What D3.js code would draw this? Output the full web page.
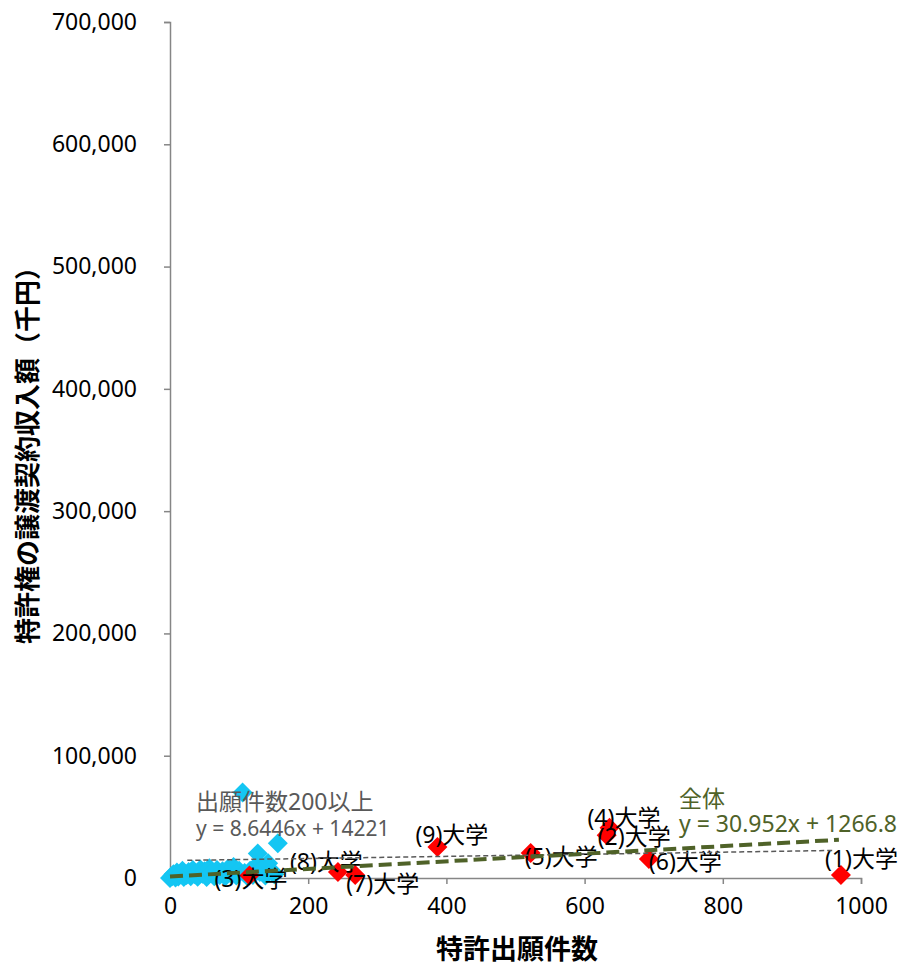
<!DOCTYPE html>
<html>
<head>
<meta charset="utf-8">
<script src="https://cdn.jsdelivr.net/npm/d3@7"></script>
<style>
  body { margin: 0; background: #fff; }
  svg { display: block; font-family: "Noto Sans", "Noto Sans CJK JP", sans-serif; }
</style>
</head>
<body>
<div id="chart"></div>
<script>
// universities with 200+ applications
const univNames = ["(1)大学", "(2)大学", "(3)大学", "(4)大学", "(5)大学", "(6)大学", "(7)大学", "(8)大学", "(9)大学"];
const univPatents = [971, 632, 115, 636, 522, 693, 268, 243, 387];
const univIncome = [2500, 35000, 2000, 41000, 20500, 15500, 2500, 5000, 25400];

// other universities
const otherPatents = [0, 3, 5, 8, 10, 12, 15, 18, 20, 24, 27, 30, 33, 36, 40, 44, 47, 50, 53, 57, 60, 64, 68, 72, 76, 80, 84, 88, 92, 96, 100, 105, 108, 112, 116, 120, 124, 127, 130, 134, 138, 142, 147, 151, 156];
const otherIncome = [0, 1500, 3000, 500, 4500, 1200, 3000, 6000, 800, 2500, 5000, 1500, 6500, 3000, 1000, 7000, 3500, 5500, 800, 8000, 4000, 1500, 6500, 2500, 5500, 1200, 7500, 3500, 9000, 2000, 6000, 70000, 4000, 1500, 6000, 2500, 9500, 20000, 5000, 8500, 2000, 12000, 6000, 3000, 28500];

const xTicks = [0, 200, 400, 600, 800, 1000];
const yTicks = [0, 100000, 200000, 300000, 400000, 500000, 600000, 700000];

// trend lines: [slope, intercept], x extent
const trendAll = [30.952, 1266.8];
const trendAllRange = [0, 968];
const trend200 = [8.6446, 14221];
const trend200Range = [25, 960];

// label offsets (px) from each red marker
const labelDx = [-16, -9, -35, -22, -6, 0, -9, -48, -22];
const labelDy = [-17, 1, 2, -11, 3, 2, 8, -11, -13];

let width = 901,
  height = 966;

let xScale = d3.scaleLinear().domain([0, 1000]).range([170, 861]);
let yScale = d3.scaleLinear().domain([0, 700000]).range([878, 22]);

let svg = d3
  .select("#chart")
  .append("svg")
  .attr("width", width)
  .attr("height", height);

// y axis
let yAxis = svg
  .append("g")
  .attr("transform", "translate(" + xScale(0) + ",0)")
  .call(
    d3.axisLeft(yScale)
      .tickValues(yTicks)
      .tickSize(6)
      .tickPadding(27)
      .tickFormat(d3.format(","))
  );
yAxis.select(".domain").attr("stroke", "#868686").attr("stroke-width", 1.5);
yAxis.selectAll(".tick line").attr("stroke", "#868686").attr("stroke-width", 1.5);
yAxis.selectAll(".tick text")
  .attr("fill", "#000")
  .style("font-size", "23px")
  .style("font-family", "'Noto Sans', sans-serif");

// x axis
let xAxis = svg
  .append("g")
  .attr("transform", "translate(0," + yScale(0) + ")")
  .call(
    d3.axisBottom(xScale)
      .tickValues(xTicks)
      .tickSize(6)
      .tickPadding(14)
      .tickFormat(d3.format("d"))
  );
xAxis.select(".domain").attr("stroke", "#868686").attr("stroke-width", 1.5);
xAxis.selectAll(".tick line").attr("stroke", "#868686").attr("stroke-width", 1.5);
xAxis.selectAll(".tick text")
  .attr("fill", "#000")
  .style("font-size", "23px")
  .style("font-family", "'Noto Sans', sans-serif");

// axis titles
svg
  .append("text")
  .text("特許出願件数")
  .attr("x", 517)
  .attr("y", 959)
  .attr("text-anchor", "middle")
  .style("font-family", "'Noto Sans CJK JP', sans-serif")
  .style("font-weight", "bold")
  .style("font-size", "27px");

svg
  .append("text")
  .text("特許権の譲渡契約収入額（千円）")
  .attr("transform", "translate(37,449) rotate(-90)")
  .attr("text-anchor", "middle")
  .style("font-family", "'Noto Sans CJK JP', sans-serif")
  .style("font-weight", "bold")
  .style("font-size", "26px");

let diamond = d3.symbol().type(d3.symbolSquare).size(200);

let others = otherPatents.map((d, i) => [d, otherIncome[i]]);
let univs = univPatents.map((d, i) => [d, univIncome[i], univNames[i], i]);

svg
  .append("g")
  .selectAll("path")
  .data(others)
  .enter()
  .append("path")
  .attr("d", diamond)
  .attr("transform", d => "translate(" + xScale(d[0]) + "," + yScale(d[1]) + ") rotate(45)")
  .style("fill", "#14c6f3");

svg
  .append("g")
  .selectAll("path")
  .data(univs)
  .enter()
  .append("path")
  .attr("d", diamond)
  .attr("transform", d => "translate(" + xScale(d[0]) + "," + yScale(d[1]) + ") rotate(45)")
  .style("fill", "#ff0000");

// data labels
svg
  .append("g")
  .selectAll("text")
  .data(univs)
  .enter()
  .append("text")
  .text(d => d[2])
  .attr("x", d => xScale(d[0]) + labelDx[d[3]])
  .attr("y", d => yScale(d[1]) + labelDy[d[3]])
  .attr("dominant-baseline", "central")
  .style("font-size", "23px")
  .style("fill", "#000");

// trend lines
let line = d3.line()
  .x(d => xScale(d[0]))
  .y(d => yScale(d[1]));

svg
  .append("path")
  .datum(trend200Range.map(x => [x, trend200[0] * x + trend200[1]]))
  .attr("d", line)
  .style("fill", "none")
  .style("stroke", "#595959")
  .style("stroke-width", 1.5)
  .style("stroke-dasharray", "5, 3");

svg
  .append("path")
  .datum(trendAllRange.map(x => [x, trendAll[0] * x + trendAll[1]]))
  .attr("d", line)
  .style("fill", "none")
  .style("stroke", "#4f6228")
  .style("stroke-width", 4)
  .style("stroke-dasharray", "13, 6");

// trend annotations
svg
  .append("text")
  .text("出願件数200以上")
  .attr("x", 196)
  .attr("y", 810)
  .style("font-size", "23px")
  .style("fill", "#595959");

svg
  .append("text")
  .text("y = " + trend200[0] + "x + " + trend200[1])
  .attr("x", 196)
  .attr("y", 836)
  .style("font-size", "21px")
  .style("fill", "#595959");

svg
  .append("text")
  .text("全体")
  .attr("x", 679)
  .attr("y", 807)
  .style("font-size", "23px")
  .style("fill", "#4f6228");

svg
  .append("text")
  .text("y = " + trendAll[0] + "x + " + trendAll[1])
  .attr("x", 679)
  .attr("y", 832)
  .style("font-size", "23px")
  .style("fill", "#4f6228");
</script>
</body>
</html>
